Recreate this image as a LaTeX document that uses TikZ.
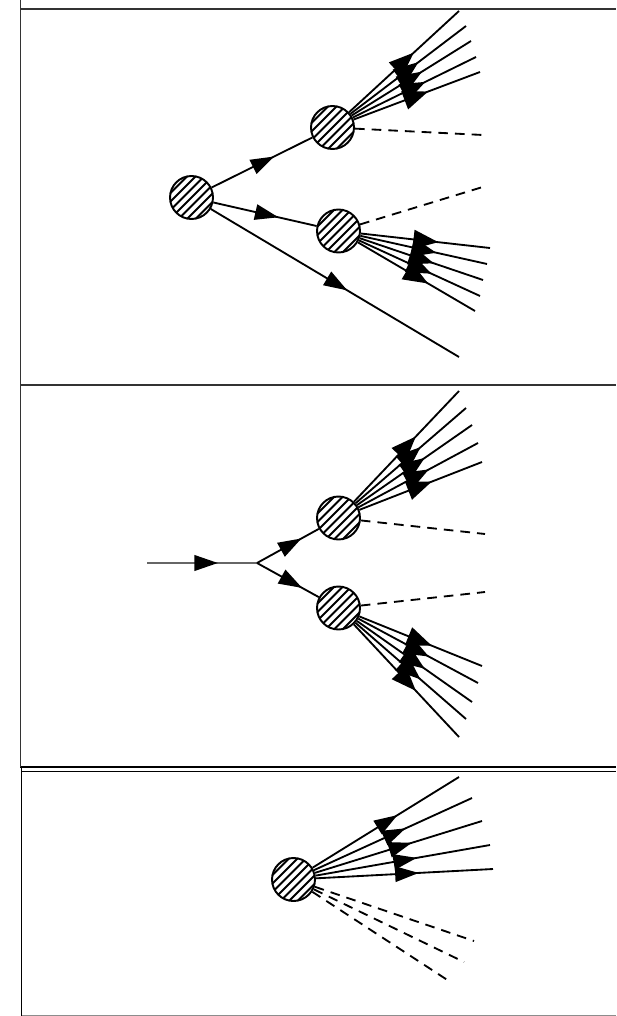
\documentclass[tikz,border=0pt]{standalone}
\usetikzlibrary{arrows.meta,decorations.markings}
\begin{document}
\begin{tikzpicture}[x=0.02cm,y=-0.02cm]
    \useasboundingbox (0,0) rectangle (616,1016);
    \tikzstyle{blob}=[circle,draw,line width=1.1pt,minimum size=0.86cm,inner sep=0pt,
        path picture={\foreach \s in {-4,...,4}{
            \draw[line width=1.15pt,shift={(path picture bounding box.center)}]
                (-0.6cm,\s*0.17cm-0.6cm)--(0.6cm,\s*0.17cm+0.6cm);}}]
    \tikzstyle{frame}=[line width=0.8pt,black!80]
    \tikzstyle{leg}=[line width=1.05pt]
    \tikzstyle{scalar}=[line width=1.05pt,dash pattern=on 5.5pt off 4pt]
    \tikzstyle{tipat}=[leg,decoration={markings,mark=at position #1 with {\arrow{Triangle[length=0.47cm,width=0.31cm,color=black]}}},postaction={decorate}]
    \tikzstyle{fan}=[leg,decoration={markings,mark=at position #1 with {\arrow{Triangle[length=0.5cm,width=0.38cm,color=black]}}},postaction={decorate}]

    %%%%%%%%%%%%%%%%%%%%%%%%%%%%%%%%%%%%%% Cadres
    \draw[frame] (20,9)--(616,9);
    \draw[frame] (20,385)--(616,385);
    \draw[frame,line width=1pt,black] (20,767)--(616,767);
    \draw[frame,line width=1.1pt,black] (21,771.5)--(616,771.5);
    \draw[frame,black!45] (21,1015.5)--(616,1015.5);
    \draw[frame] (20.5,0)--(20.5,767);
    \draw[frame,line width=1.1pt,black] (21.5,767)--(21.5,1016);

    %%%%%%%%%%%%%%%%%%%%%%%%%%%%%%%%%%%%%% Haut
    \node[blob] (a) at (191.5,197.5){};
    \node[blob] (b) at (332.5,127.5){};
    \node[blob] (c) at (338.5,231){};
    \coordinate (aend) at (459,357);
    \coordinate (bdash) at (483,135);
    \coordinate (cdash) at (486,186);

    \draw[tipat=0.62] (a)--(b);
    \draw[tipat=0.63] (a)--(c);
    \draw[tipat=0.55] (a)--(aend);
    \draw[scalar] (b)--(bdash);
    \draw[scalar] (c)--(cdash);

    \foreach \n/\x/\y in {1/459/11,2/466/26,3/471/41,4/476/57,5/480/72}{
        \coordinate (b\n) at (\x,\y);
        \draw[fan=0.59] (b)--(b\n);
    }
    \foreach \n/\x/\y in {1/490/248,2/487/264,3/483/280,4/480/296,5/475/311}{
        \coordinate (c\n) at (\x,\y);
        \draw[fan=0.6] (c)--(c\n);
    }

    %%%%%%%%%%%%%%%%%%%%%%%%%%%%%%%%%%%%%% Milieu
    \coordinate (in) at (147,563);
    \coordinate (v) at (257,563);
    \node[blob] (d) at (338.5,518){};
    \node[blob] (e) at (338.5,608){};
    \coordinate (ddash) at (485,534);
    \coordinate (edash) at (485,592);

    \draw[tipat=0.645,line width=1.3pt,black!60] (in)--(v);
    \draw[tipat=0.72] (v)--(d);
    \draw[tipat=0.73] (v)--(e);
    \draw[scalar] (d)--(ddash);
    \draw[scalar] (e)--(edash);

    \foreach \n/\x/\y in {1/459/391,2/466/408,3/472/425,4/478/443,5/482/462}{
        \coordinate (d\n) at (\x,\y);
        \draw[fan=0.59] (d)--(d\n);
    }
    \foreach \n/\x/\y in {1/482/666,2/478/683,3/472/702,4/466/719,5/459/737}{
        \coordinate (e\n) at (\x,\y);
        \draw[fan=0.59] (e)--(e\n);
    }

    %%%%%%%%%%%%%%%%%%%%%%%%%%%%%%%%%%%%%% Bas
    \node[blob] (f) at (293.5,879.5){};
    \foreach \n/\x/\y in {1/459/777,2/472/798,3/482/821,4/490/845,5/493/869}{
        \coordinate (f\n) at (\x,\y);
        \draw[tipat=0.58] (f)--(f\n);
    }
    \foreach \n/\x/\y in {6/474/941,7/464/962,8/452/983}{
        \coordinate (f\n) at (\x,\y);
        \draw[scalar] (f)--(f\n);
    }
\end{tikzpicture}
\end{document}
